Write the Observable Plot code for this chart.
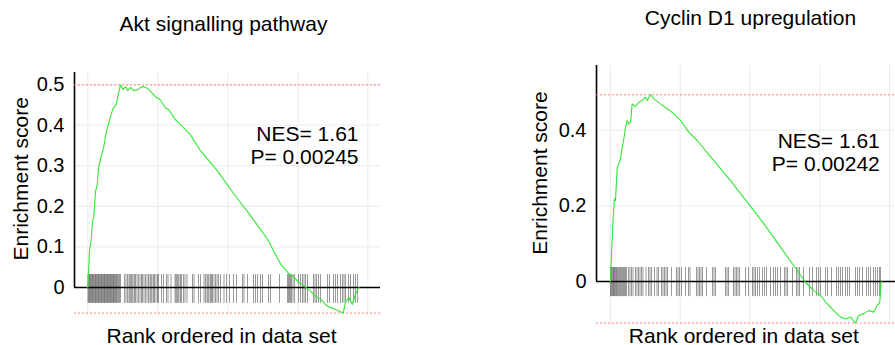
<!DOCTYPE html>
<html>
<head>
<meta charset="utf-8">
<script src="https://cdn.jsdelivr.net/npm/d3@7"></script>
<script src="https://cdn.jsdelivr.net/npm/@observablehq/plot@0.6"></script>
<style>
  html, body { margin: 0; padding: 0; background: #fff; }
  #wrap { position: relative; width: 895px; height: 345px; overflow: hidden; }
  #left, #right { position: absolute; top: 0; }
  #left { left: 0; }
  #right { left: 448px; }
</style>
</head>
<body>
<div id="wrap"><div id="left"></div><div id="right"></div></div>
<script>
// ---- Panel 1: Akt signalling pathway ----
const akTitle = "Akt signalling pathway";
const akStats = ["NES= 1.61", "P= 0.00245"];
const akTicks = [0, 0.1, 0.2, 0.3, 0.4, 0.5];
const akRank = [0,121,243,336,429,550,671,786,957,1143,1264,1386,1621,1814,2029,2143,2336,2529,2693,2857,3050,3286,3571,3764,3957,4243,4479,4836,5193,5550,5786,6264,6743,7336,8050,9243,10429,11621,12814,13764,14357,14600,15071,15550,15907,16264,16621,16979,17214,17571,17929,18243,18407,18643,18886,19121,19357];
const akES = [0,0.089,0.117,0.162,0.175,0.236,0.253,0.298,0.323,0.347,0.372,0.392,0.421,0.442,0.45,0.47,0.499,0.488,0.495,0.485,0.493,0.485,0.487,0.493,0.495,0.491,0.483,0.47,0.462,0.442,0.438,0.413,0.397,0.376,0.337,0.288,0.231,0.177,0.12,0.058,0.034,0.03,0.013,0.001,-0.009,-0.022,-0.028,-0.042,-0.048,-0.052,-0.058,-0.063,-0.036,-0.024,-0.042,-0.016,0];
const akHits = [14,71,121,179,229,279,336,393,443,500,550,607,657,714,764,821,871,929,979,1036,1093,1143,1193,1250,1300,1357,1407,1464,1514,1564,1621,1679,1729,1786,1836,1893,1943,2000,2050,2121,2193,2264,2336,
2621,2729,2836,2943,3014,3086,3157,3229,3336,3407,3514,3621,3729,3836,3907,4014,4121,4229,4336,4443,4514,4586,4693,4764,4871,4979,5050,5264,5407,5621,5729,5943,6229,6300,6371,6443,6514,6621,6693,6836,6943,7086,7479,7586,7907,8050,8300,8407,8514,8586,8657,8764,8836,8907,9014,9121,9229,9336,9479,9729,9907,10121,10407,10621,11050,11157,11407,11836,11979,12121,12336,12479,12907,13050,13693,14264,14336,14407,14479,14550,14657,14764,15050,15193,15336,15443,15550,15693,16121,16229,16336,16479,16621,17121,17264,17550,17693,17836,18050,18193,18300,18407,18621,18764,18979,19121,19264];
const akHitBand = [-0.039, 0.032];

// ---- Panel 2: Cyclin D1 upregulation ----
const cyTitle = "Cyclin D1 upregulation";
const cyStats = ["NES= 1.61", "P= 0.00242"];
const cyTicks = [0, 0.2, 0.4];
const cyRank = [0,72,194,287,358,480,595,717,839,953,1075,1197,1312,1434,1555,1792,2029,2272,2509,2631,2867,3104,3584,4064,4537,5018,5613,6215,7405,8602,9799,10988,12186,13383,13978,14572,15053,15533,16006,16486,16845,17203,17562,17798,18157,18515,18874,19117,19304,19404];
const cyES = [0,0.073,0.17,0.219,0.214,0.302,0.311,0.325,0.355,0.377,0.408,0.426,0.417,0.421,0.47,0.463,0.474,0.479,0.488,0.479,0.494,0.483,0.47,0.457,0.444,0.426,0.395,0.373,0.32,0.267,0.21,0.153,0.091,0.029,-0.002,-0.024,-0.037,-0.059,-0.077,-0.094,-0.099,-0.094,-0.11,-0.09,-0.085,-0.077,-0.081,-0.063,-0.055,0];
const cyHits = [0,57,108,165,215,272,323,380,430,502,573,645,717,788,860,932,1004,1075,1147,1290,1398,1505,1613,1792,1900,2007,2115,2222,2330,2545,2724,2831,2939,3154,3333,3441,3656,3763,3871,3978,4086,4372,4731,4838,4946,5089,5376,5591,5699,6164,6272,6380,6487,6595,6881,7311,7419,7526,8243,8351,8458,8816,8924,9032,9139,9247,9677,9892,10179,10286,10394,10537,10680,10895,11039,11182,11469,11684,11827,11971,12186,12472,12580,12687,13046,13332,13440,13548,13834,14264,14479,14766,14909,15053,15411,15555,15842,16200,16343,16486,16630,16845,16988,17132,17562,17705,17849,18064,18351,18494,18637,18852,18996,19139,19282,19354];
const cyHitBand = [-0.04, 0.037];

const xLabel = "Rank ordered in data set";
const yLabel = "Enrichment score";
const rankGrid = [0, 5000, 10000, 15000, 20000];

function panel(o) {
  const curve = o.rank.map((r, i) => ({rank: r, es: o.es[i]}));
  const font = {fontFamily: "'Liberation Sans', Arial, sans-serif", fill: "#000"};
  return Plot.plot({
    width: 447, height: 345,
    marginLeft: o.ml, marginRight: o.mr, marginTop: o.mt, marginBottom: o.mb,
    x: {domain: o.xd, axis: null},
    y: {domain: o.yd, axis: null},
    style: {fontFamily: "'Liberation Sans', Arial, sans-serif", fontSize: "20px", background: "white", overflow: "visible"},
    marks: [
      Plot.gridX(rankGrid, {stroke: "#ebebeb", strokeOpacity: 1, strokeWidth: 1}),
      Plot.gridY(o.ticks.filter(t => t > 0), {stroke: "#ebebeb", strokeOpacity: 1, strokeWidth: 1}),
      Plot.ruleX(o.hits, {x: d => d, y1: o.band[0], y2: o.band[1], stroke: "#000", strokeOpacity: 0.4, strokeWidth: 1}),
      Plot.ruleY([0], {stroke: "#000", strokeWidth: 1.7}),
      Plot.ruleX([o.xd[0]], {y1: 0, y2: o.yd[1], stroke: "#000", strokeWidth: 1.6}),
      Plot.ruleY([d3.max(o.es)], {stroke: "#ff8080", strokeWidth: 1, strokeDasharray: "2,2"}),
      Plot.ruleY([d3.min(o.es)], {stroke: "#ff8080", strokeWidth: 1, strokeDasharray: "2,2"}),
      Plot.line(curve, {x: "rank", y: "es", stroke: "#33e633", strokeWidth: 1.1}),
      Plot.axisY({ticks: o.ticks, tickSize: 0, tickPadding: 10, tickFormat: d3.format(""), fontSize: 20, label: null, fill: "#000"}),
      Plot.text([o.title], {frameAnchor: "top", lineAnchor: "bottom", dx: o.tdx, dy: o.tdy, fontSize: 21, ...font}),
      Plot.text([o.stats.join("\n")], {frameAnchor: "top-right", textAnchor: "end", lineAnchor: "bottom", lineHeight: 1.08, dx: o.sdx, dy: o.sdy, fontSize: 21, ...font}),
      Plot.text([xLabel], {frameAnchor: "bottom", lineAnchor: "bottom", dx: o.xdx, dy: o.xdy, fontSize: 21, ...font}),
      Plot.text([yLabel], {frameAnchor: "left", lineAnchor: "bottom", textAnchor: "middle", rotate: -90, dx: o.ydx, dy: o.ydy, fontSize: 21, ...font})
    ]
  });
}

document.getElementById("left").append(panel({
  title: akTitle, stats: akStats, ticks: akTicks, rank: akRank, es: akES, hits: akHits, band: akHitBand,
  ml: 74, mr: 67, mt: 72, mb: 29, xd: [-950, 20907], yd: [-0.0714, 0.5296],
  tdx: -4, tdy: -41.3, sdx: -22, sdy: 91.3, xdx: -6, xdy: 26, ydx: -46.7, ydy: -15.7
}));
document.getElementById("right").append(panel({
  title: cyTitle, stats: cyStats, ticks: cyTicks, rank: cyRank, es: cyES, hits: cyHits, band: cyHitBand,
  ml: 148, mr: 0, mt: 65, mb: 20, xd: [-1004, 20429], yd: [-0.1164, 0.5714],
  tdx: 4.5, tdy: -41, sdx: -15.7, sdy: 105, xdx: -2.2, xdy: 17, ydx: -50, ydy: -22.5
}));
</script>
</body>
</html>
